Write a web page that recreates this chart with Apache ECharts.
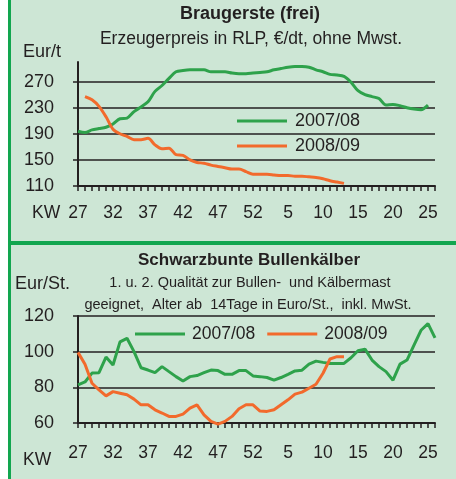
<!DOCTYPE html>
<html>
<head>
<meta charset="utf-8">
<script src="https://cdn.jsdelivr.net/npm/echarts@6/dist/echarts.min.js"></script>
<style>
  html, body { margin: 0; padding: 0; background: #fff; }
  #container { width: 456px; height: 479px; }
</style>
</head>
<body>
<div id="container"></div>
<script>
// Kalenderwochen 27..52, 1..26
var weeks = ['27','28','29','30','31','32','33','34','35','36','37','38','39','40','41','42','43','44','45','46','47','48','49','50','51','52',
             '1','2','3','4','5','6','7','8','9','10','11','12','13','14','15','16','17','18','19','20','21','22','23','24','25','26'];

// Braugerste (frei), Eur/t
var gerste0708 = [194,192,196,198,200,205,213,214,224,231,239,255,264,275,285,287,288,288,288,285,285,285,283,282,282,283,
                  284,285,288,290,292,293,293,292,288,285,281,280,278,269,256,250,247,244,234,235,233,230,228,227,234,null];
var gerste0809 = [null,247,242,232,216,197,190,186,181,181,183,173,167,168,158,157,150,146,145,142,140,138,136,136,132,128,
                  128,128,127,126,126,125,125,124,123,121,118,116,114];

// Schwarzbunte Bullenkälber, Eur/St.
var kaelber0708 = [81.4,83,88,88.2,97,92.5,105.5,107.5,100,91,89.7,88.2,91.6,88.8,86,83.6,86,86.6,88.2,89.7,89.4,87.3,87.3,89.4,89.4,86.4,
                   86,85.5,84,85.5,87.3,89.2,89.6,93,94.7,94,93.4,93.4,93.4,96.6,100.5,101.4,95.3,91.6,88.8,84,93,95.3,103.7,112,115.7,107.7];
var kaelber0809 = [99.6,93,82.3,78.6,75.2,77.6,76.7,75.8,73.4,70.2,70.2,67.4,65.6,63.7,63.7,65,68.4,70.2,64.6,60.9,59.4,60.9,63.7,68,70.2,70.2,
                   66.7,66.5,67.4,70.2,73,76.2,77.3,79.5,81.7,87.9,95.9,97.2,97.2];

var gerstTicks = [110,150,190,230,270];
var kaelberTicks = [60,80,100,120];

var font = "'Liberation Sans', Arial, sans-serif";
var ink = '#231f20';
var green = '#2ea24b';
var orange = '#f26a2c';
var frame = '#12a64f';

var dom = document.getElementById('container');
var myChart = echarts.init(dom, null, { renderer: 'canvas' });

function makeX(gridIndex, margin) {
  return {
    type: 'category', gridIndex: gridIndex, data: weeks, boundaryGap: false,
    axisLine: { show: true, lineStyle: { color: ink, width: 2 } },
    axisTick: { show: true, interval: 0, length: 5, lineStyle: { color: ink, width: 1.5 } },
    axisLabel: { interval: 4, margin: margin, color: ink, fontSize: 17.5, fontFamily: font },
    splitLine: { show: false }
  };
}

function makeY(gridIndex, min, max, step, ticks) {
  return {
    type: 'value', gridIndex: gridIndex, min: min, max: max, interval: step,
    axisLine: { show: true, lineStyle: { color: ink, width: 2 } },
    axisTick: { show: true, length: 5, customValues: ticks, lineStyle: { color: ink, width: 1.5 } },
    axisLabel: { margin: 24, customValues: ticks, showMinLabel: true, showMaxLabel: true, color: ink, fontSize: 18, fontFamily: font },
    splitLine: { show: true, showMinLine: true, showMaxLine: true, lineStyle: { color: ink, width: 1.5 } }
  };
}

function txt(x, y, text, size, opts) {
  opts = opts || {};
  return {
    type: 'text', x: x, y: y, silent: true,
    style: {
      text: text, fill: ink,
      font: (opts.bold ? 'bold ' : '') + size + 'px ' + font,
      align: opts.align || 'center', verticalAlign: 'middle'
    }
  };
}

var option = {
  backgroundColor: '#cde6d5',
  animation: false,
  textStyle: { fontFamily: font },
  grid: [
    { left: 78, top: 62, width: 357, height: 124 },
    { left: 78, top: 316, width: 357, height: 107 }
  ],
  xAxis: [makeX(0, 18), makeX(1, 21)],
  yAxis: [makeY(0, 110, 300, 40, gerstTicks), makeY(1, 60, 120, 20, kaelberTicks)],
  legend: [
    {
      orient: 'vertical', left: 237, top: 112, padding: 0, itemGap: 7,
      icon: 'rect', itemWidth: 50, itemHeight: 3,
      textStyle: { color: ink, fontSize: 18, lineHeight: 18, fontFamily: font, padding: [0, 0, 0, 3] },
      data: ['2007/08', '2008/09']
    },
    {
      orient: 'horizontal', left: 135, top: 325, padding: 0, itemGap: 12,
      icon: 'rect', itemWidth: 50, itemHeight: 3,
      textStyle: { color: ink, fontSize: 17.5, lineHeight: 18, fontFamily: font, padding: [0, 0, 0, 2] },
      data: ['2007/08', '2008/09']
    }
  ],
  series: [
    { name: '2007/08', type: 'line', xAxisIndex: 0, yAxisIndex: 0, data: gerste0708, symbol: 'none', smooth: 0.3,
      lineStyle: { color: green, width: 3 }, itemStyle: { color: green } },
    { name: '2008/09', type: 'line', xAxisIndex: 0, yAxisIndex: 0, data: gerste0809, symbol: 'none', smooth: 0.3,
      lineStyle: { color: orange, width: 3 }, itemStyle: { color: orange } },
    { name: '2007/08', type: 'line', xAxisIndex: 1, yAxisIndex: 1, data: kaelber0708, symbol: 'none', clip: false,
      lineStyle: { color: green, width: 3 }, itemStyle: { color: green } },
    { name: '2008/09', type: 'line', xAxisIndex: 1, yAxisIndex: 1, data: kaelber0809, symbol: 'none', clip: false,
      lineStyle: { color: orange, width: 3 }, itemStyle: { color: orange } }
  ],
  graphic: [
    { type: 'rect', silent: true, shape: { x: 0, y: 0, width: 8, height: 479 }, style: { fill: '#ffffff' } },
    { type: 'rect', silent: true, shape: { x: 8, y: 0, width: 3, height: 479 }, style: { fill: frame } },
    { type: 'rect', silent: true, shape: { x: 8, y: 241, width: 448, height: 4 }, style: { fill: frame } },
    txt(250, 14, 'Braugerste (frei)', 18, { bold: true }),
    txt(251, 39.5, 'Erzeugerpreis in RLP, €/dt, ohne Mwst.', 17.5),
    txt(23, 52.5, 'Eur/t', 18, { align: 'left' }),
    txt(32, 213.5, 'KW', 17.5, { align: 'left' }),
    txt(249, 260, 'Schwarzbunte Bullenkälber', 17, { bold: true }),
    txt(15, 284, 'Eur/St.', 18, { align: 'left' }),
    txt(250, 283, '1. u. 2. Qualität zur Bullen-  und Kälbermast', 14.5),
    txt(248, 304.5, 'geeignet,  Alter ab  14Tage in Euro/St.,  inkl. MwSt.', 14.5),
    txt(23, 460.5, 'KW', 17.5, { align: 'left' })
  ]
};

myChart.setOption(option);

window.addEventListener('resize', function () {
  myChart.resize();
});
</script>
</body>
</html>
